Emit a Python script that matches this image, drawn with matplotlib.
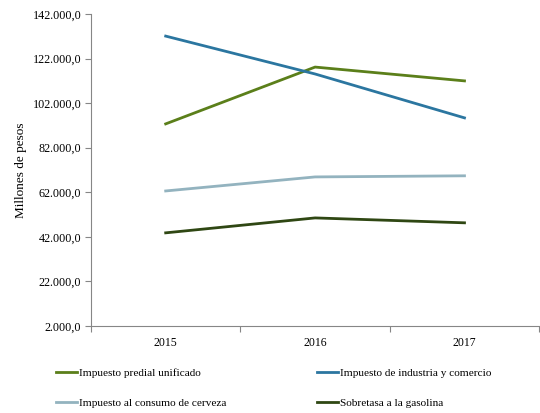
import matplotlib
matplotlib.use('Agg')
import matplotlib.pyplot as plt
from matplotlib.ticker import FuncFormatter

anios = ['2015', '2016', '2017']
predial = [92700, 118200, 112000]
industria = [132100, 115100, 95400]
cerveza = [62600, 68900, 69400]
gasolina = [43800, 50500, 48300]

series = [
    ('Impuesto predial unificado', predial, '#5b7f1a'),
    ('Impuesto de industria y comercio', industria, '#2b76a0'),
    ('Impuesto al consumo de cerveza', cerveza, '#93b3bf'),
    ('Sobretasa a la gasolina', gasolina, '#2f4713'),
]

plt.rcParams['font.family'] = ['Liberation Serif', 'DejaVu Serif']

fig = plt.figure(figsize=(5.4, 4.13), dpi=100)
ax = fig.add_axes([0.1685, 0.2107, 0.83, 0.7553])

x = list(range(len(anios)))
lineas = {}
for nombre, vals, color in series:
    lineas[nombre] = ax.plot(x, vals, color=color, linewidth=2, label=nombre)[0]

ax.set_xlim(-0.5, 2.5)
ax.set_ylim(2000, 142000)
ax.set_yticks(range(2000, 142001, 20000))

def fmt(v, pos):
    return '{:,.1f}'.format(v).replace(',', 'X').replace('.', ',').replace('X', '.')

ax.yaxis.set_major_formatter(FuncFormatter(fmt))
ax.set_xticks([-0.5, 0.5, 1.5, 2.5])
ax.set_xticklabels([])
ax.set_xticks(x, minor=True)
ax.set_xticklabels(anios, minor=True)
ax.tick_params(axis='x', which='minor', length=0, pad=8, labelsize=8.5)
ax.tick_params(axis='x', which='major', length=4, color='#868686', direction='out')
ax.tick_params(axis='y', length=4, color='#868686', labelsize=8.7, pad=3)

for s in ['top', 'right']:
    ax.spines[s].set_visible(False)
for s in ['left', 'bottom']:
    ax.spines[s].set_color('#868686')

ax.set_ylabel('Millones de pesos', fontsize=9.5, labelpad=4)

# orden por filas como en la referencia
orden = [series[0][0], series[2][0], series[1][0], series[3][0]]
fig.legend([lineas[n] for n in orden], orden, loc='lower left',
           bbox_to_anchor=(0.085, -0.013), ncol=2, frameon=False,
           fontsize=8.1, handlelength=1.9, handletextpad=0.1, columnspacing=8.1,
           labelspacing=1.8)

plt.savefig('out.png', dpi=100)
